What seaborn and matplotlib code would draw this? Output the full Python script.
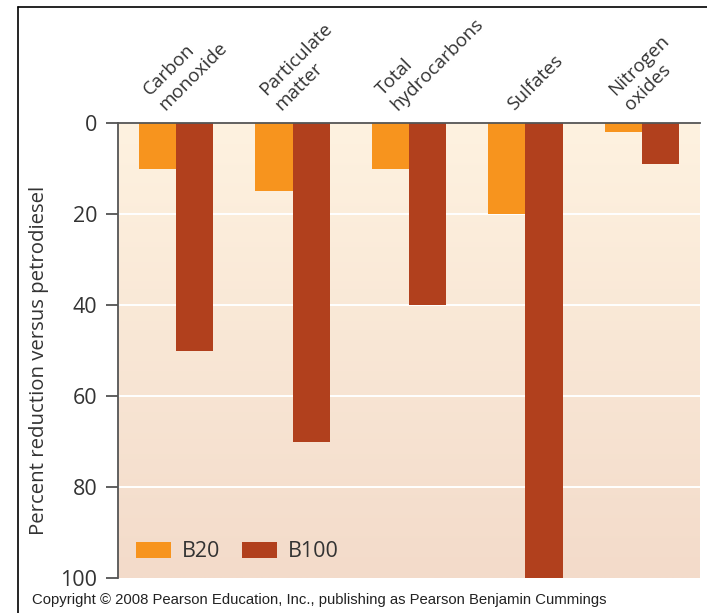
import numpy as np
import pandas as pd
import matplotlib
matplotlib.use("Agg")
import matplotlib.pyplot as plt
from matplotlib.lines import Line2D
from matplotlib.patches import Patch
from matplotlib.colors import LinearSegmentedColormap
import seaborn as sns

# Emission categories and percent reductions for two biodiesel blends
categories = ["Carbon\nmonoxide", "Particulate\nmatter", "Total\nhydrocarbons",
              "Sulfates", "Nitrogen\noxides"]
b20 = [10, 15, 10, 20, 2]
b100 = [50, 70, 40, 100, 9]
blends = ["B20", "B100"]
y_ticks = [0, 20, 40, 60, 80, 100]

df = pd.DataFrame({
    "category": categories * 2,
    "blend": ["B20"] * len(categories) + ["B100"] * len(categories),
    "reduction": b20 + b100,
})

sns.set_theme(style="white")
plt.rcParams["font.family"] = ["Open Sans", "DejaVu Sans"]

W, H = 707, 613
fig = plt.figure(figsize=(W / 100, H / 100), dpi=100)
ax = fig.add_axes([118 / W, 35 / H, 582 / W, 455 / H])

palette = {"B20": "#F7941E", "B100": "#B1401D"}
sns.barplot(data=df, x="category", y="reduction", hue="blend", hue_order=blends,
            palette=palette, width=0.64, saturation=1, ax=ax, legend=False,
            zorder=3, linewidth=0)

ax.set_ylim(100, 0)
ax.set_xlim(-0.5, len(categories) - 0.5)

# vertical cream-to-peach gradient behind the bars
grad = LinearSegmentedColormap.from_list("bg", ["#FEF2E0", "#F3DBCA"])
ax.imshow(np.linspace(0, 1, 256).reshape(-1, 1), cmap=grad, aspect="auto",
          extent=[0, 1, 0, 1], transform=ax.transAxes, zorder=0)

for v in y_ticks[1:-1]:
    ax.axhline(v, color="white", lw=1.4, zorder=1)

ax.set_yticks(y_ticks)
ax.tick_params(axis="y", direction="out", length=9, width=1.2, color="#444444",
               labelsize=15.5, pad=6, left=True, labelcolor="#333333")
ax.set_xticks([])
ax.set_xlabel("")
ax.set_ylabel("Percent reduction versus petrodiesel", fontsize=14.7,
              color="#333333")
ax.yaxis.set_label_coords(-0.118, 0.479)

for side in ["right", "bottom"]:
    ax.spines[side].set_visible(False)
for side in ["left", "top"]:
    ax.spines[side].set_color("#555555")
    ax.spines[side].set_linewidth(1.3)
    ax.spines[side].set_zorder(4)

# slanted category labels above the plot, left-aligned lines
for i, lab in enumerate(categories):
    ax.text(i - 0.07, 1.02, lab, transform=ax.get_xaxis_transform(),
            rotation=45, rotation_mode="anchor", ha="left", va="bottom",
            multialignment="left", fontsize=13.6, color="#333333",
            linespacing=1.25)

handles = [Patch(facecolor=palette[b], edgecolor="none", label=b) for b in blends]
ax.legend(handles=handles, loc="lower left", ncol=2, frameon=False,
          fontsize=15.5, handlelength=1.63, handleheight=0.8, columnspacing=1.0,
          handletextpad=0.5, bbox_to_anchor=(-0.002, -0.008), labelcolor="#333333")

fig.text(0.452, 0.021, "Copyright \u00a9 2008 Pearson Education, Inc., publishing as Pearson Benjamin Cummings",
         ha="center", va="center", fontsize=10.7, family="Liberation Sans", color="#222222")

# thin frame along the left and top edges of the figure
fig.add_artist(Line2D([18 / W, 18 / W], [0, 1 - 7 / H], color="black", lw=1.2))
fig.add_artist(Line2D([18 / W, 1], [1 - 7 / H, 1 - 7 / H], color="black", lw=1.2))

fig.savefig("out.png", dpi=100, facecolor="white")
